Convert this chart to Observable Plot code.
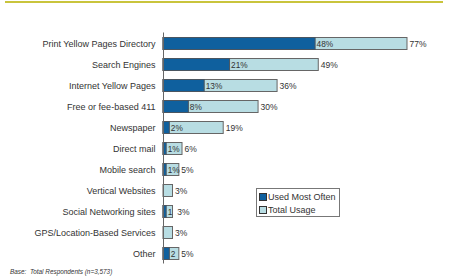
<!DOCTYPE html>
<html>
<head>
<meta charset="utf-8">
<script src="https://cdn.jsdelivr.net/npm/d3@7"></script>
<script src="https://cdn.jsdelivr.net/npm/@observablehq/plot@0.6"></script>
<style>
  html, body { margin: 0; padding: 0; background: #fff; }
  body { width: 450px; height: 280px; position: relative; overflow: hidden; font-family: "Liberation Sans", Arial, sans-serif; }
  #topline { position: absolute; left: 5px; top: 1px; width: 438px; height: 2px; background: #c9c43c; }
  #chart { position: absolute; left: 0; top: 3px; }
  #legend { position: absolute; left: 256px; top: 188px; width: 82px; height: 27px; border: 1px solid #777; background: #fff; font-size: 9px; color: #333; }
  .lg { position: absolute; left: 2px; height: 10px; line-height: 10px; white-space: nowrap; }
  .sw { display: inline-block; width: 6px; height: 6px; border: 1px solid #333; margin-right: 1px; vertical-align: -1px; }
  #caption { position: absolute; left: 10px; top: 268px; font-size: 6.4px; font-style: italic; color: #333; white-space: nowrap; }
</style>
</head>
<body>
<div id="topline"></div>
<div id="chart"></div>
<div id="legend"></div>
<div id="caption">Base:&nbsp; Total Respondents (n=3,573)</div>
<script>
const categories = [
  "Print Yellow Pages Directory",
  "Search Engines",
  "Internet Yellow Pages",
  "Free or fee-based 411",
  "Newspaper",
  "Direct mail",
  "Mobile search",
  "Vertical Websites",
  "Social Networking sites",
  "GPS/Location-Based Services",
  "Other"
];
const usedMostOften = [48, 21, 13, 8, 2, 1, 1, 0, 1, 0, 2];
const totalUsage    = [77, 49, 36, 30, 19, 6, 5, 3, 3, 3, 5];
const mostLabels  = ["48%", "21%", "13%", "8%", "2%", "1%", "1%", "", "1", "", "2"];
const totalLabels = ["77%", "49%", "36%", "30%", "19%", "6%", "5%", "3%", "\u00a03%", "3%", "5%"];
const seriesNames = ["Used Most Often", "Total Usage"];
const colors = ["#0f609e", "#b8dde3"];

const rows = categories.map((c, i) => ({
  cat: c, most: usedMostOften[i], total: totalUsage[i],
  mostLabel: mostLabels[i], totalLabel: totalLabels[i]
}));

const chart = Plot.plot({
  width: 450,
  height: 262,
  marginLeft: 163,
  marginRight: 33.5,
  marginTop: 29.5,
  marginBottom: 1.5,
  style: { fontFamily: "Liberation Sans, Arial, sans-serif", fontSize: "9px", color: "#333", background: "#fff" },
  x: { domain: [0, 80], axis: null },
  y: { domain: categories, padding: 0, label: null },
  marks: [
    Plot.barX(rows, { y: "cat", x1: 0, x2: "total", fill: colors[1], stroke: "#666", strokeWidth: 1, insetTop: 4.5, insetBottom: 4.5 }),
    Plot.barX(rows.filter(d => d.most > 0), { y: "cat", x1: 0, x2: "most", fill: colors[0], stroke: "#4a5560", strokeWidth: 1, insetTop: 4.5, insetBottom: 4.5 }),
    Plot.text(rows, { y: "cat", x: "most", text: "mostLabel", textAnchor: "start", dx: 1, fill: "#333", fontSize: 8.3 }),
    Plot.text(rows, { y: "cat", x: "total", text: "totalLabel", textAnchor: "start", dx: 2, fill: "#333", fontSize: 8.5 }),
    Plot.ruleX([0], { stroke: "#666", strokeWidth: 1 }),
    Plot.axisY({ tickSize: 0, tickPadding: 8, fill: "#333", label: null })
  ]
});
document.getElementById("chart").appendChild(chart);

const legend = document.getElementById("legend");
seriesNames.forEach((name, i) => {
  const row = document.createElement("div");
  row.className = "lg";
  row.style.top = (3 + i * 13) + "px";
  const sw = document.createElement("span");
  sw.className = "sw";
  sw.style.background = colors[i];
  row.appendChild(sw);
  row.appendChild(document.createTextNode(name));
  legend.appendChild(row);
});
</script>
</body>
</html>
